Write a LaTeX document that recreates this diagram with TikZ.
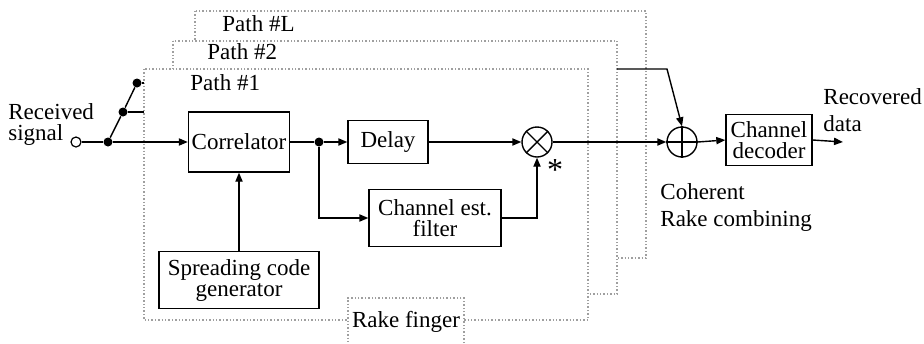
\documentclass[tikz,border=0pt]{standalone}
\usepackage{fontspec}
\setmainfont{Liberation Serif}
\usetikzlibrary{arrows.meta,positioning}
\tikzset{
  block/.style={draw,line width=0.7pt,align=center,inner sep=1pt},
  frame/.style={draw=gray!75,densely dotted,line width=0.7pt,fill=white},
  jdot/.style={circle,fill,inner sep=0pt,minimum size=4.5pt},
  sig/.style={line width=0.7pt,-{Triangle[length=4.5pt,width=3.6pt]}},
  wire/.style={line width=0.7pt},
  txt/.style={inner sep=0pt,align=left},
}

\begin{document}
\begin{tikzpicture}[x=0.5pt,y=-0.5pt,font=\fontsize{11.5}{10.5}\selectfont]
\useasboundingbox (0,0) rectangle (924,343);
% Draw the path frames, back to front
\draw[frame] (195,11) rectangle (646,258);
\node[txt,anchor=base west] (pathL) at (222,31) {Path \#L};
\draw[frame] (173,41) rectangle (617,294);
\node[txt,anchor=base west] (pathB) at (207,59) {Path \#2};
\draw[frame] (144,69) rectangle (588,320);
\node[txt,anchor=base west] (pathA) at (190,90) {Path \#1};
\node[frame,minimum width=58pt,minimum height=24pt,inner sep=0pt] (finger) at (406,322) {Rake finger};
% Input side
\node[txt,anchor=north west] (rxlabel) at (8,103) {Received\\signal};
\node[circle,draw,fill=white,line width=0.6pt,inner sep=0pt,minimum size=5pt] (rx) at (76,142) {};
\node[jdot] (j1) at (108,142) {};
\node[jdot] (j2) at (123,112) {};
\node[jdot] (j3) at (137,83) {};
\coordinate (f2) at (144,112);
\coordinate (f3) at (144,83);
% Blocks of the finger
\node[block,minimum width=50.5pt,minimum height=30pt] (corr) at (239,142) {Correlator};
\node[block,minimum width=80pt,minimum height=28.5pt] (spread) at (239,280) {Spreading code\\generator};
\node[jdot] (split) at (319,142) {};
\node[block,minimum width=40pt,minimum height=21.5pt] (delay) at (388,142) {Delay};
\node[block,minimum width=66pt,minimum height=28.5pt] (chest) at (435,218) {Channel est.\\filter};
\node[circle,draw,line width=0.7pt,minimum size=15pt,inner sep=0pt] (mult) at (537,142) {};
\draw[wire] (mult.north west) -- (mult.south east) (mult.north east) -- (mult.south west);
\node[inner sep=0pt,font=\fontsize{16}{16}\selectfont] (conj) at (555,170) {*};
% Combiner and decoder
\node[circle,draw,line width=0.7pt,minimum size=15pt,inner sep=0pt] (comb) at (682,142) {};
\draw[wire] (comb.north) -- (comb.south) (comb.west) -- (comb.east);
\node[block,minimum width=43pt,minimum height=25.5pt] (dec) at (769,140) {Channel\\decoder};
\coordinate (out) at (843,142);
\coordinate (p2out) at (617,69);
\coordinate (bend) at (667,69);
\node[txt,anchor=north west] (outlabel) at (823,88) {Recovered\\[3pt]data};
\node[txt,anchor=north west] (comblabel) at (660,183) {Coherent\\[3pt]Rake combining};
% Connectors
\draw[wire] (rx) -- (j1);
\draw[wire] (j1) -- (j2) -- (j3);
\draw[wire] (j2) -- (f2);
\draw[wire] (j3) -- (f3);
\draw[sig] (j1) -- (corr.west);
\draw[sig] (spread.north) -- (corr.south);
\draw[wire] (corr.east) -- (split);
\draw[sig] (split) -- (delay.west);
\draw[sig] (split) |- (chest.west);
\draw[sig] (delay.east) -- (mult.west);
\draw[sig] (chest.east) -| (mult.south);
\draw[sig] (mult.east) -- (comb.west);
\draw[sig] (p2out) -- (bend) -- (comb.north);
\draw[sig] (comb.east) -- (dec.west);
\draw[sig] (dec.east) -- (out);
\end{tikzpicture}
\end{document}
